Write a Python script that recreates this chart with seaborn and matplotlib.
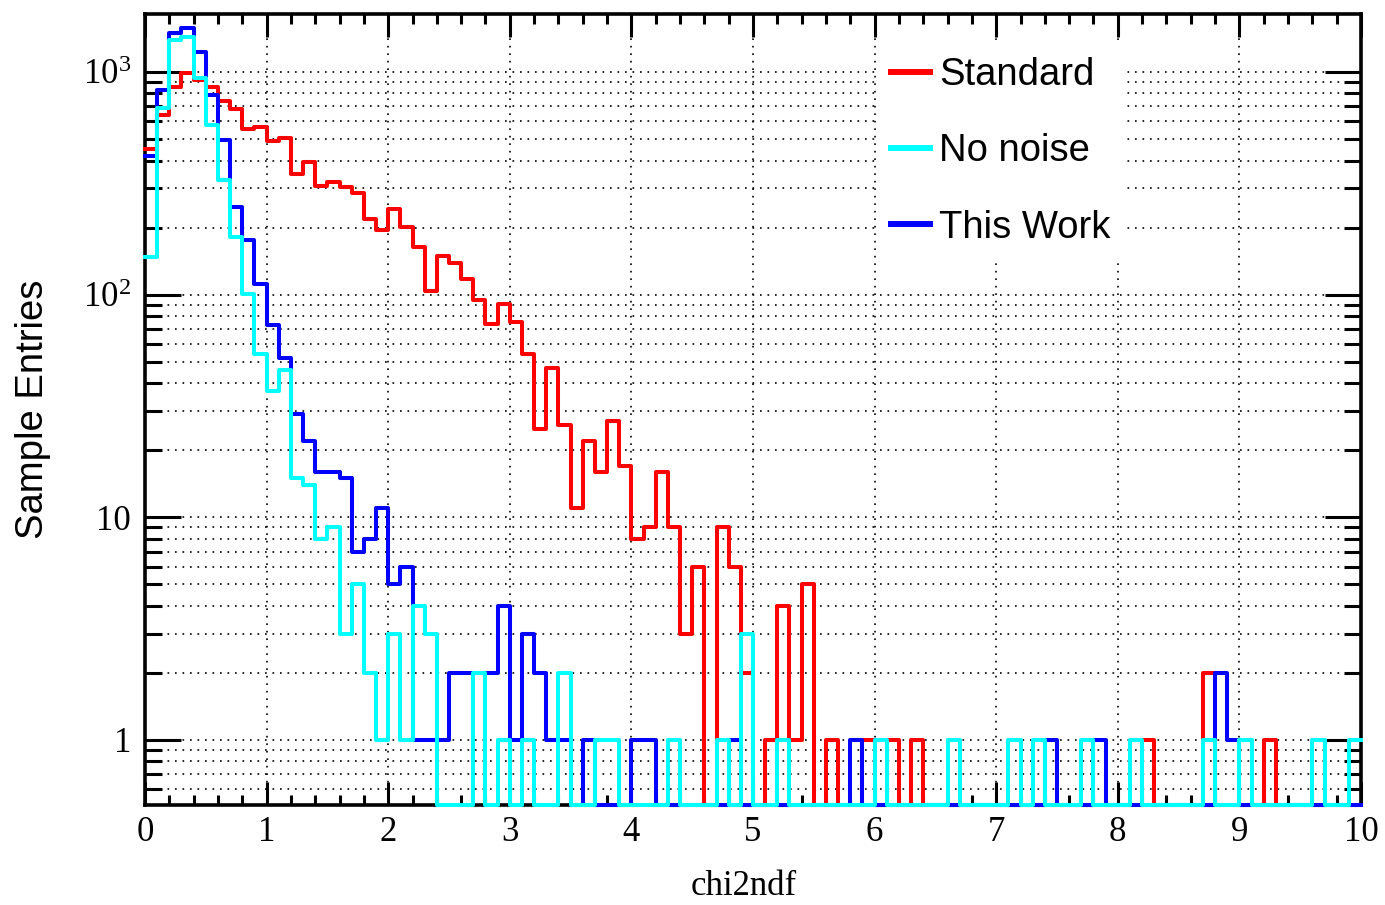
import numpy as np
import pandas as pd
import matplotlib
matplotlib.use("Agg")
import matplotlib.pyplot as plt
from matplotlib.ticker import FixedLocator, FixedFormatter, MultipleLocator, LogLocator, NullFormatter
from matplotlib.lines import Line2D
from matplotlib.font_manager import FontProperties
import seaborn as sns

# Histogram binning: 100 bins of width 0.1 on [0, 10]
x_min, x_max, n_bins = 0.0, 10.0, 100

# Entries per bin
standard = [
    450, 640, 859, 984, 920, 853, 743, 681, 552, 568,
    491, 507, 348, 395, 308, 321, 305, 285, 218, 194,
    242, 202, 163, 104, 149, 139, 118, 95, 74, 91,
    75, 54, 25, 47, 26, 11, 22, 16, 27, 17,
    8, 9, 16, 9, 3, 6, 0, 9, 6, 2,
    0, 1, 4, 1, 5, 0, 1, 0, 0, 1,
    0, 1, 0, 1, 0, 0, 0, 0, 0, 0,
    0, 0, 0, 0, 0, 0, 0, 0, 0, 0,
    0, 0, 1, 0, 0, 0, 0, 2, 0, 0,
    0, 0, 1, 0, 0, 0, 0, 0, 0, 0,
]
no_noise = [
    148, 686, 1390, 1439, 936, 577, 327, 182, 101, 54,
    37, 46, 15, 14, 8, 9, 3, 5, 2, 1,
    3, 1, 4, 3, 0, 0, 0, 2, 0, 1,
    0, 1, 0, 0, 2, 0, 0, 1, 1, 0,
    0, 0, 0, 1, 0, 0, 0, 1, 0, 3,
    0, 0, 1, 0, 0, 0, 0, 0, 0, 0,
    1, 0, 0, 0, 0, 0, 1, 0, 0, 0,
    0, 1, 0, 1, 0, 0, 0, 1, 0, 0,
    0, 1, 0, 0, 0, 0, 0, 1, 0, 0,
    1, 0, 0, 0, 0, 0, 1, 0, 0, 1,
]
this_work = [
    420, 829, 1490, 1570, 1233, 788, 495, 248, 176, 112,
    73, 52, 29, 22, 16, 16, 15, 7, 8, 11,
    5, 6, 1, 1, 1, 2, 2, 2, 2, 4,
    1, 3, 2, 1, 1, 0, 1, 0, 0, 0,
    1, 1, 0, 0, 0, 0, 0, 0, 1, 0,
    0, 0, 0, 0, 0, 0, 0, 0, 1, 0,
    0, 0, 0, 0, 0, 0, 0, 0, 0, 0,
    0, 0, 0, 0, 1, 0, 0, 0, 1, 0,
    0, 0, 0, 0, 0, 0, 0, 0, 2, 1,
    0, 0, 0, 0, 0, 0, 0, 0, 0, 0,
]

series_names = ["Standard", "No noise", "This Work"]
series_colors = ["#ff0000", "#00ffff", "#0000ff"]

x_ticks = [0, 1, 2, 3, 4, 5, 6, 7, 8, 9, 10]
y_ticks = [1, 10, 100, 1000]
y_tick_labels = ["1", "10", r"$\mathregular{10^{2}}$", r"$\mathregular{10^{3}}$"]
x_label = "chi2ndf"
y_label = "Sample Entries"
y_range = (0.51, 1820)

plt.rcParams["font.family"] = ["Liberation Serif", "DejaVu Serif"]
plt.rcParams["mathtext.fontset"] = "custom"
plt.rcParams["mathtext.rm"] = "Liberation Serif"
plt.rcParams["mathtext.it"] = "Liberation Serif:italic"
plt.rcParams["axes.axisbelow"] = "line"

W, H = 1385, 905
fig = plt.figure(figsize=(W / 100, H / 100), dpi=100)
ax = fig.add_axes([145 / W, 1 - 805 / H, (1361 - 145) / W, (805 - 14) / H])
ax.set_yscale("log")

edges = np.linspace(x_min, x_max, n_bins + 1)
centers = 0.5 * (edges[:-1] + edges[1:])

series = {"Standard": standard, "No noise": no_noise, "This Work": this_work}
color_of = dict(zip(series_names, series_colors))

# Empty bins sit on the lower frame edge of the log axis
for name in ["Standard", "This Work", "No noise"]:
    counts = np.asarray(series[name], dtype=float)
    frame = pd.DataFrame({"chi2ndf": centers,
                          "entries": np.where(counts > 0, counts, y_range[0])})
    sns.histplot(data=frame, x="chi2ndf", weights="entries", bins=edges.tolist(),
                 element="step", fill=False, color=color_of[name],
                 linewidth=2.9, clip_on=False, zorder=3, ax=ax)

ax.set_xlim(x_min, x_max)
ax.set_ylim(*y_range)

# Axis ticks and grid
ax.xaxis.set_major_locator(FixedLocator(x_ticks))
ax.xaxis.set_minor_locator(MultipleLocator(0.2))
ax.yaxis.set_major_locator(FixedLocator(y_ticks))
ax.yaxis.set_major_formatter(FixedFormatter(y_tick_labels))
ax.yaxis.set_minor_locator(LogLocator(base=10, subs=range(2, 10), numticks=20))
ax.yaxis.set_minor_formatter(NullFormatter())

ax.tick_params(which="both", direction="in", top=True, right=True, width=2.2, color="black")
ax.tick_params(axis="x", which="major", length=16.5, pad=8, labelsize=25)
ax.tick_params(axis="x", which="minor", length=7.5)
ax.tick_params(axis="y", which="major", length=26, pad=10, labelsize=25)
ax.tick_params(axis="y", which="minor", length=12.5)
for sp in ax.spines.values():
    sp.set_linewidth(2.6)
    sp.set_color("black")

grid_style = dict(color="black", linestyle=(0, (1, 3.5)), linewidth=1.2)
ax.grid(True, axis="x", which="major", **grid_style)
ax.grid(True, axis="y", which="both", **grid_style)
ax.grid(False, axis="x", which="minor")

ax.set_xlabel(x_label, fontsize=25, family=["Liberation Serif"])
ax.xaxis.set_label_coords((744 - 145) / 1216, -0.082)
ax.set_ylabel(y_label, fontsize=27.5, family=["Liberation Sans"])
ax.yaxis.set_label_coords(-0.077, 0.5)

handles = [Line2D([0], [0], color=color_of[n], linewidth=4.3) for n in series_names]
leg = ax.legend(handles, series_names, loc="upper left",
                bbox_to_anchor=(878 / W, 1 - 44 / H), bbox_transform=fig.transFigure,
                frameon=True, fancybox=False, framealpha=1, edgecolor="none", facecolor="white",
                prop=FontProperties(family="Liberation Sans", size=27.5),
                handlelength=1.0, handletextpad=0.25, labelspacing=1.05,
                borderpad=0.35, borderaxespad=0)
leg.set_zorder(5)

fig.savefig("out.png", dpi=100, facecolor="white")
